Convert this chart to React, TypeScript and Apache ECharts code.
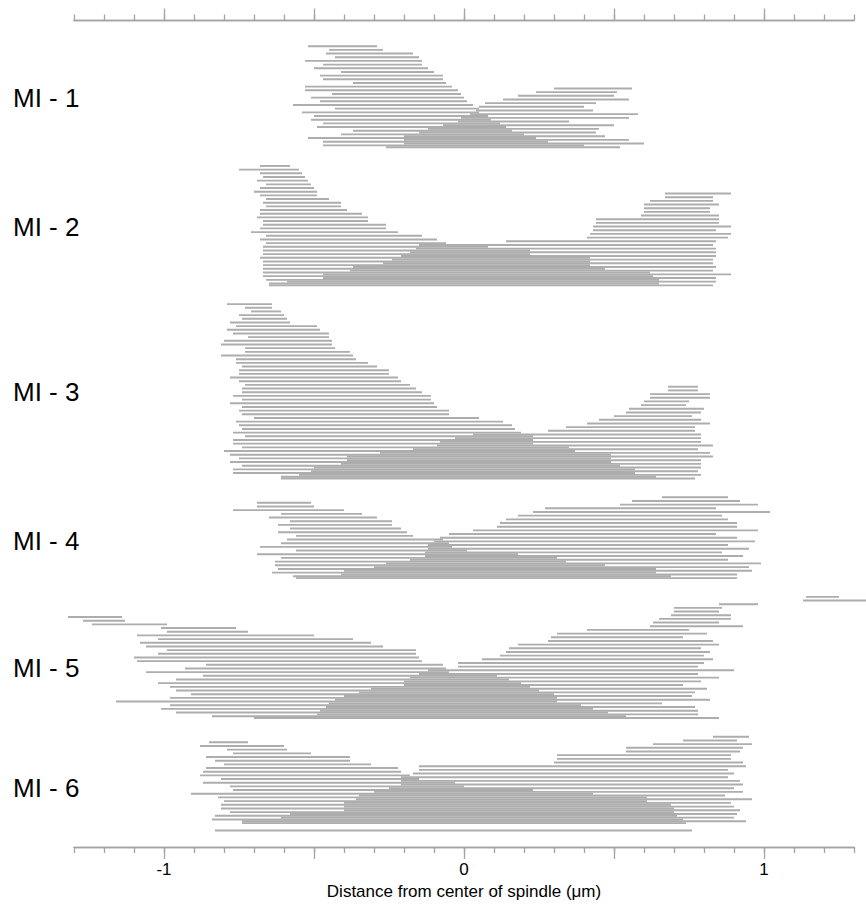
import { useEffect, useRef } from 'react';
import * as echarts from 'echarts';

// ---------- data (µm from spindle centre) ----------
const GROUP_NAMES = ['MI - 1', 'MI - 2', 'MI - 3', 'MI - 4', 'MI - 5', 'MI - 6'];

const X_MAJOR_TICKS = [-1, -0.5, 0, 0.5, 1];
const X_TICK_LABELS = [-1, 0, 1];

const mi1LeftStart = [-0.52, -0.45, -0.46, -0.43, -0.53, -0.47, -0.50, -0.41, -0.48, -0.47, -0.37, -0.53, -0.53, -0.44, -0.51, -0.48, -0.57, -0.43, -0.54, -0.50, -0.51, -0.47, -0.49, -0.37, -0.41, -0.52, -0.47, -0.47];
const mi1LeftEnd = [-0.29, -0.27, -0.17, -0.15, -0.14, -0.14, -0.12, -0.10, -0.07, -0.07, -0.06, -0.04, -0.02, -0.01, 0.00, 0.01, 0.03, 0.05, 0.05, 0.08, 0.09, 0.12, 0.14, 0.16, 0.20, 0.24, 0.28, 0.40];
const mi1RightStart = [0.30, 0.24, 0.18, 0.13, 0.07, 0.05, 0.04, 0.02, -0.01, -0.02, -0.07, -0.12, -0.15, -0.20, -0.20, -0.20, -0.26];
const mi1RightEnd = [0.56, 0.51, 0.50, 0.55, 0.44, 0.40, 0.43, 0.58, 0.55, 0.35, 0.50, 0.45, 0.44, 0.47, 0.55, 0.60, 0.52];

const mi2LeftStart = [-0.68, -0.75, -0.68, -0.67, -0.69, -0.66, -0.68, -0.70, -0.68, -0.66, -0.67, -0.66, -0.68, -0.68, -0.69, -0.67, -0.67, -0.68, -0.71, -0.66, -0.68, -0.66, -0.67, -0.67, -0.67, -0.68, -0.67, -0.67, -0.67, -0.67, -0.67, -0.66, -0.65];
const mi2LeftEnd = [-0.58, -0.55, -0.54, -0.53, -0.52, -0.51, -0.50, -0.49, -0.49, -0.45, -0.41, -0.41, -0.39, -0.34, -0.32, -0.32, -0.26, -0.26, -0.22, -0.14, -0.09, -0.06, 0.08, 0.22, 0.22, 0.42, 0.42, 0.42, 0.47, 0.62, 0.63, 0.65, 0.65];
const mi2RightStart = [0.67, 0.67, 0.62, 0.60, 0.60, 0.60, 0.59, 0.44, 0.44, 0.43, 0.43, 0.42, 0.41, 0.14, -0.15, -0.16, -0.18, -0.21, -0.24, -0.27, -0.37, -0.38, -0.47, -0.47, -0.59, -0.65];
const mi2RightEnd = [0.89, 0.83, 0.83, 0.85, 0.82, 0.82, 0.85, 0.85, 0.85, 0.89, 0.84, 0.89, 0.88, 0.84, 0.83, 0.84, 0.84, 0.84, 0.83, 0.83, 0.84, 0.83, 0.89, 0.84, 0.84, 0.83];

const mi3LeftStart = [-0.79, -0.73, -0.71, -0.75, -0.74, -0.78, -0.76, -0.79, -0.77, -0.72, -0.80, -0.81, -0.73, -0.73, -0.81, -0.76, -0.76, -0.74, -0.75, -0.75, -0.78, -0.75, -0.73, -0.74, -0.74, -0.77, -0.74, -0.78, -0.74, -0.75, -0.74, -0.70, -0.76, -0.75, -0.74, -0.77, -0.73, -0.77, -0.77, -0.74, -0.80, -0.78, -0.75, -0.78, -0.74, -0.77, -0.77, -0.61];
const mi3LeftEnd = [-0.64, -0.64, -0.61, -0.60, -0.59, -0.58, -0.49, -0.48, -0.45, -0.45, -0.44, -0.44, -0.43, -0.38, -0.37, -0.36, -0.32, -0.29, -0.25, -0.25, -0.22, -0.21, -0.18, -0.16, -0.14, -0.11, -0.11, -0.10, -0.09, -0.05, -0.05, 0.05, 0.13, 0.16, 0.17, 0.19, 0.23, 0.23, 0.23, 0.35, 0.37, 0.49, 0.49, 0.49, 0.52, 0.57, 0.57, 0.64];
const mi3RightStart = [0.68, 0.68, 0.62, 0.62, 0.60, 0.59, 0.55, 0.54, 0.50, 0.45, 0.41, 0.34, 0.28, 0.03, -0.03, -0.08, -0.09, -0.17, -0.28, -0.39, -0.39, -0.41, -0.50, -0.51, -0.55, -0.61];
const mi3RightEnd = [0.78, 0.78, 0.82, 0.82, 0.75, 0.74, 0.80, 0.79, 0.76, 0.79, 0.82, 0.77, 0.77, 0.79, 0.79, 0.79, 0.83, 0.78, 0.82, 0.83, 0.79, 0.79, 0.79, 0.78, 0.79, 0.77];

const mi4LeftStart = [-0.69, -0.69, -0.77, -0.61, -0.65, -0.58, -0.62, -0.58, -0.62, -0.56, -0.59, -0.61, -0.68, -0.56, -0.69, -0.61, -0.63, -0.63, -0.62, -0.64, -0.57];
const mi4LeftEnd = [-0.51, -0.50, -0.40, -0.34, -0.29, -0.24, -0.24, -0.21, -0.19, -0.17, -0.07, -0.05, -0.04, 0.01, 0.18, 0.31, 0.34, 0.47, 0.64, 0.64, 0.69];
const mi4RightStart = [0.66, 0.56, 0.52, 0.27, 0.23, 0.18, 0.14, 0.12, 0.11, 0.03, -0.05, -0.08, -0.10, -0.12, -0.12, -0.13, -0.13, -0.18, -0.26, -0.30, -0.40, -0.41, -0.56];
const mi4RightEnd = [0.88, 0.92, 0.98, 0.84, 1.02, 0.86, 0.88, 0.91, 0.91, 0.98, 0.84, 0.91, 0.97, 0.88, 0.95, 0.86, 0.93, 0.88, 0.99, 0.95, 0.96, 0.91, 0.91];

const mi5LeftStart = [-1.32, -1.27, -1.24, -1.01, -0.99, -1.09, -1.02, -1.08, -1.06, -0.99, -1.02, -1.10, -1.09, -0.86, -0.93, -1.06, -0.87, -0.96, -1.02, -0.98, -0.96, -0.91, -0.98, -1.16, -0.98, -1.01, -0.96, -0.84];
const mi5LeftEnd = [-1.14, -1.13, -0.99, -0.76, -0.72, -0.50, -0.37, -0.31, -0.27, -0.16, -0.16, -0.15, -0.14, -0.07, -0.06, -0.05, 0.11, 0.15, 0.19, 0.22, 0.25, 0.30, 0.31, 0.31, 0.39, 0.43, 0.48, 0.54];
const mi5RightStart = [1.14, 1.13, 0.85, 0.70, 0.70, 0.69, 0.65, 0.63, 0.62, 0.41, 0.31, 0.29, 0.28, 0.18, 0.15, 0.14, 0.12, 0.06, -0.02, -0.02, -0.12, -0.15, -0.18, -0.20, -0.20, -0.31, -0.35, -0.40, -0.43, -0.45, -0.46, -0.48, -0.49, -0.70];
const mi5RightEnd = [1.25, 1.34, 0.98, 0.86, 0.85, 0.89, 0.89, 0.85, 0.93, 0.75, 0.81, 0.73, 0.83, 0.85, 0.79, 0.82, 0.80, 0.83, 0.80, 0.78, 0.90, 0.78, 0.85, 0.79, 0.73, 0.81, 0.77, 0.76, 0.82, 0.66, 0.77, 0.78, 0.78, 0.85];

const mi6LeftStart: (number | null)[] = [-0.85, -0.88, -0.79, -0.77, -0.86, -0.83, -0.80, -0.86, -0.87, -0.88, -0.81, -0.87, -0.78, -0.77, -0.91, -0.82, -0.80, -0.81, -0.81, -0.78, -0.83, -0.84, -0.74, null, -0.83];
const mi6LeftEnd: (number | null)[] = [-0.72, -0.60, -0.59, -0.51, -0.38, -0.38, -0.31, -0.22, -0.21, -0.18, -0.15, -0.03, 0.00, 0.23, 0.43, 0.61, 0.61, 0.69, 0.70, 0.70, 0.71, 0.73, 0.74, null, 0.76];
const mi6RightStart = [0.83, 0.73, 0.63, 0.54, 0.54, 0.31, 0.31, 0.30, -0.15, -0.15, -0.17, -0.21, -0.21, -0.21, -0.25, -0.30, -0.35, -0.36, -0.40, -0.40, -0.40, -0.58, -0.61, -0.74];
const mi6RightEnd = [0.95, 0.91, 0.96, 0.93, 0.92, 0.89, 0.89, 0.93, 0.94, 0.88, 0.90, 0.88, 0.92, 0.93, 0.90, 0.93, 0.87, 0.96, 0.89, 0.90, 0.92, 0.91, 0.90, 0.94];

const GROUPS = [
  { leftStart: mi1LeftStart, leftEnd: mi1LeftEnd, rightStart: mi1RightStart, rightEnd: mi1RightEnd },
  { leftStart: mi2LeftStart, leftEnd: mi2LeftEnd, rightStart: mi2RightStart, rightEnd: mi2RightEnd },
  { leftStart: mi3LeftStart, leftEnd: mi3LeftEnd, rightStart: mi3RightStart, rightEnd: mi3RightEnd },
  { leftStart: mi4LeftStart, leftEnd: mi4LeftEnd, rightStart: mi4RightStart, rightEnd: mi4RightEnd },
  { leftStart: mi5LeftStart, leftEnd: mi5LeftEnd, rightStart: mi5RightStart, rightEnd: mi5RightEnd },
  { leftStart: mi6LeftStart, leftEnd: mi6LeftEnd, rightStart: mi6RightStart, rightEnd: mi6RightEnd },
];

// ---------- layout (row units) ----------
const RIGHT_ROW_OFFSET = [11.5, 7.5, 22.5, -1.5, -5.5, -1.5];
const TOP_PAD_ROWS = 7;
const GROUP_GAP_ROWS = 5.1;
const Y_MAX_ROWS = 225;
const LINE_COLOR = '#adadad';
const LINE_WIDTH = 1.9;
const AXIS_COLOR = '#a3a3a3';
const FONT = '"Liberation Sans", Arial, Helvetica, sans-serif';

function buildData() {
  const segs: number[][] = [];
  const labelRows: number[] = [];
  let cursor = TOP_PAD_ROWS;
  GROUPS.forEach((g, gi) => {
    const off = RIGHT_ROW_OFFSET[gi];
    const nL = g.leftStart.length;
    const nR = g.rightStart.length;
    const top = Math.min(0, off);
    const bottom = Math.max(nL - 1, off + nR - 1);
    const base = cursor - top;
    g.leftStart.forEach((s, i) => {
      const e = g.leftEnd[i];
      if (s == null || e == null) return;
      segs.push([s, e, base + i]);
    });
    g.rightStart.forEach((s, j) => {
      segs.push([s, g.rightEnd[j], base + off + j]);
    });
    labelRows.push(base + (nL - 1) / 2 + 0.5);
    cursor = base + bottom + GROUP_GAP_ROWS;
  });
  return { segs, labelRows };
}

const minorTicks = Array.from({ length: 27 }, (_, k) => (k - 13) / 10);

export default function App() {
  const ref = useRef<HTMLDivElement>(null);
  useEffect(() => {
    if (!ref.current) return;
    const chart = echarts.init(ref.current, null, { renderer: 'svg' });
    const { segs, labelRows } = buildData();

    const baseX = (position: 'top' | 'bottom', major: boolean, withLabels: boolean): any => ({
      type: 'value',
      position,
      min: -1.3,
      max: 1.3,
      axisLine: { show: true, onZero: false, lineStyle: { color: AXIS_COLOR, width: 1.3 } },
      axisTick: {
        show: true,
        inside: false,
        customValues: major ? X_MAJOR_TICKS : minorTicks,
        length: major ? 12 : 6,
        lineStyle: { color: AXIS_COLOR, width: 1.3 },
      },
      axisLabel: withLabels
        ? {
            show: true,
            customValues: X_TICK_LABELS,
            formatter: (v: number) => String(Math.round(v)),
            fontSize: 17,
            color: '#000',
            fontFamily: FONT,
            margin: 14,
          }
        : { show: false },
      splitLine: { show: false },
      ...(withLabels
        ? {
            name: 'Distance from center of spindle (μm)',
            nameLocation: 'middle',
            nameGap: 33,
            nameTextStyle: { fontSize: 17, color: '#000', fontFamily: FONT },
          }
        : {}),
    });

    chart.setOption({
      animation: false,
      backgroundColor: '#ffffff',
      grid: { left: 74, right: 12, top: 20.5, bottom: 64, containLabel: false },
      xAxis: [
        baseX('bottom', false, false),
        baseX('bottom', true, true),
        baseX('top', false, false),
        baseX('top', true, false),
      ],
      yAxis: {
        type: 'value',
        inverse: true,
        min: 0,
        max: Y_MAX_ROWS,
        axisLine: { show: false, onZero: false },
        axisTick: { show: false },
        splitLine: { show: false },
        axisLabel: {
          show: true,
          customValues: labelRows,
          formatter: (v: number) => {
            const idx = labelRows.findIndex((r) => Math.abs(r - v) < 1e-6);
            return idx >= 0 ? GROUP_NAMES[idx] : '';
          },
          align: 'left',
          margin: 61,
          fontSize: 26,
          color: '#000',
          fontFamily: FONT,
        },
      },
      series: [
        {
          type: 'custom',
          xAxisIndex: 0,
          yAxisIndex: 0,
          clip: false,
          silent: true,
          encode: { x: [0, 1], y: 2 },
          data: segs,
          renderItem: (_params: any, api: any) => {
            const a = api.coord([api.value(0), api.value(2)]);
            const b = api.coord([api.value(1), api.value(2)]);
            return {
              type: 'line',
              shape: { x1: a[0], y1: a[1], x2: b[0], y2: b[1] },
              style: { stroke: LINE_COLOR, lineWidth: LINE_WIDTH },
            };
          },
        },
      ],
    });
    return () => chart.dispose();
  }, []);
  return (
    <div
      ref={ref}
      style={{ position: 'absolute', left: 0, top: 0, width: 866, height: 911, background: '#fff' }}
    />
  );
}
